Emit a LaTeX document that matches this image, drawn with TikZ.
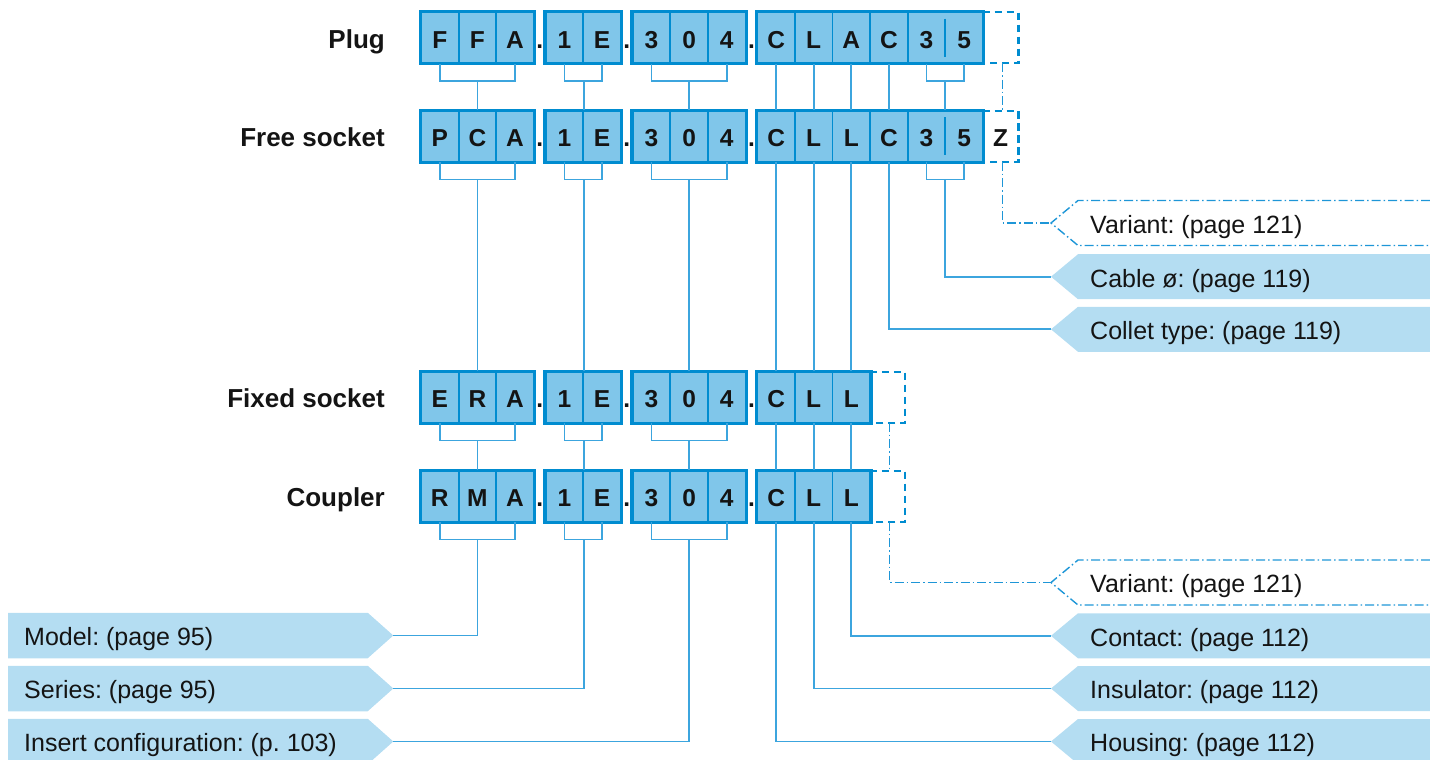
\documentclass[tikz,border=0pt]{standalone}
\usepackage{fontspec}
\setmainfont{Liberation Sans}
\frenchspacing
\definecolor{cellfill}{RGB}{128,198,234}
\definecolor{cellline}{RGB}{0,140,208}
\definecolor{connc}{RGB}{60,165,222}
\definecolor{lblfill}{RGB}{180,221,242}
\definecolor{ddcol}{RGB}{30,150,215}
\definecolor{txt}{RGB}{20,20,20}
\tikzset{
 cell/.style={draw=cellline, line width=1.8pt, fill=cellfill, minimum width=37.6pt, minimum height=50.5pt, inner sep=0pt, text height=24.6pt, text depth=4pt, font=\fontsize{24.5}{29}\selectfont\bfseries, text=txt},
 grp/.style={draw=cellline, line width=3pt},
 vbox/.style={minimum width=35.3pt, minimum height=50.5pt, inner sep=0pt, text height=24.6pt, text depth=4pt, font=\fontsize{24.5}{29}\selectfont\bfseries, text=txt},
 dbox/.style={draw=cellline, line width=2.4pt, dash pattern=on 7.5pt off 4.5pt},
 conn/.style={draw=connc, line width=1.7pt},
 ddl/.style={draw=ddcol, line width=1.4pt, dash pattern=on 9pt off 3pt on 1.5pt off 3pt},
 rowlbl/.style={anchor=base east, font=\fontsize{26}{31}\selectfont\bfseries, text=txt, inner sep=0pt},
 dotlbl/.style={anchor=base, font=\fontsize{24.5}{29}\selectfont\bfseries, text=txt, inner sep=0pt},
 lbltext/.style={anchor=base west, font=\fontsize{25}{30}\selectfont, text=txt, inner sep=0pt},
}
\newcommand\mkrow[3]{%
 \foreach \t [count=\i] in {#3} {%
  \pgfmathsetmacro\xx{{439.8,477.4,515.0,564.5,602.1,651.5,689.1,726.7,776.1,813.7,851.3,888.9}[\i-1]}%
  \node[cell] (#1\i) at (\xx,#2) {\t};
 }%
 \foreach \dx [count=\k] in {539.75,626.8,751.4} \node[dotlbl] (#1dot\k) at (\dx,{#2+10.3}) {.};
}
\newcommand\mkgrp[2]{%
 \draw[grp] (#11.north west) rectangle (#13.south east);
 \draw[grp] (#14.north west) rectangle (#15.south east);
 \draw[grp] (#16.north west) rectangle (#18.south east);
 \draw[grp] (#19.north west) rectangle (#1#2.south east);
}
\newcommand\brk[1]{%
 \draw[conn] (#11.south) -- ++(0,17) coordinate (#1bA) -| (#13.south);
 \draw[conn] (#14.south) -- ++(0,17) coordinate (#1bB) -| (#15.south);
 \draw[conn] (#16.south) -- ++(0,17) coordinate (#1bC) -| (#18.south);
}
\newcommand\rlab[4]{%
 \path[#4] (1430,{#2-22.5}) -- (1078,{#2-22.5}) -- (1051,#2) -- (1078,{#2+22.5}) -- (1430,{#2+22.5});
 \coordinate (#1) at (1051,#2);
 \node[lbltext] (#1t) at (1090,{#2+10.3}) {#3};
}
\newcommand\llab[3]{%
 \fill[lblfill] (8,{#2-22.75}) -- (367.7,{#2-22.75}) -- (393.3,#2) -- (367.7,{#2+22.75}) -- (8,{#2+22.75}) -- cycle;
 \coordinate (#1) at (393.3,#2);
 \node[lbltext] (#1t) at (24,{#2+10.2}) {#3};
}
\begin{document}
\begin{tikzpicture}[x=1pt,y=-1pt]
\useasboundingbox (0,0) rectangle (1430,760);

% ---------- labels ----------
\rlab{tVarA}{223}{Variant: (page 121)}{ddl}
\rlab{tCable}{276.7}{Cable ø: (page 119)}{fill=lblfill}
\rlab{tCollet}{329.3}{Collet type: (page 119)}{fill=lblfill}
\rlab{tVarB}{582.5}{Variant: (page 121)}{ddl}
\rlab{tContact}{635.8}{Contact: (page 112)}{fill=lblfill}
\rlab{tInsul}{688.5}{Insulator: (page 112)}{fill=lblfill}
\rlab{tHousing}{741.5}{Housing: (page 112)}{fill=lblfill}
\llab{tModel}{635.5}{Model: (page 95)}
\llab{tSeries}{688.5}{Series: (page 95)}
\llab{tInsert}{741.5}{Insert configuration: (p. 103)}

% ---------- row 1: Plug ----------
\mkrow{p}{37.75}{F,F,A,1,E,3,0,4,C,L,A,C}
\node[cell, minimum width=75.2pt] (p13) at (945.3,37.75) {\makebox[37.6pt]{3}\makebox[37.6pt]{5}};
\draw[cellline, line width=1.8pt] ([yshift=-7pt]p13.north) -- ([yshift=7pt]p13.south);
\node[vbox] (pz) at (1000.55,37.75) {};
\draw[dbox] (pz.north west) -- (pz.north east) -- (pz.south east) -- (pz.south west);
\mkgrp{p}{13}
\node[rowlbl] (lp) at (385,48.05) {Plug};

% ---------- row 2: Free socket ----------
\mkrow{f}{136.25}{P,C,A,1,E,3,0,4,C,L,L,C}
\node[cell, minimum width=75.2pt] (f13) at (945.3,136.25) {\makebox[37.6pt]{3}\makebox[37.6pt]{5}};
\draw[cellline, line width=1.8pt] ([yshift=-7pt]f13.north) -- ([yshift=7pt]f13.south);
\node[vbox] (fz) at (1000.55,136.25) {Z};
\draw[dbox] (fz.north west) -- (fz.north east) -- (fz.south east) -- (fz.south west);
\mkgrp{f}{13}
\node[rowlbl] (lf) at (385,146.55) {Free socket};

% ---------- row 3: Fixed socket ----------
\mkrow{x}{397.25}{E,R,A,1,E,3,0,4,C,L,L}
\node[vbox, minimum width=34.9pt] (xz) at (887.55,397.25) {};
\draw[dbox] (xz.north west) -- (xz.north east) -- (xz.south east) -- (xz.south west);
\mkgrp{x}{11}
\node[rowlbl] (lx) at (385,407.55) {Fixed socket};

% ---------- row 4: Coupler ----------
\mkrow{c}{496.25}{R,M,A,1,E,3,0,4,C,L,L}
\node[vbox, minimum width=34.9pt] (cz) at (887.55,496.25) {};
\draw[dbox] (cz.north west) -- (cz.north east) -- (cz.south east) -- (cz.south west);
\mkgrp{c}{11}
\node[rowlbl] (lc) at (385,506.55) {Coupler};

% ---------- connectors: plug -> free socket ----------
\brk{p}
\draw[conn] (pbA -| p2.south) -- (f2.north);
\draw[conn] (pbB -| p4.south east) -- (f4.north east);
\draw[conn] (pbC -| p7.south) -- (f7.north);
\foreach \j in {9,...,12} \draw[conn] (p\j.south) -- (f\j.north);
\draw[conn] ([xshift=-18.8pt]p13.south) -- ++(0,17) coordinate (pbD) -| ([xshift=18.8pt]p13.south);
\draw[conn] (pbD -| p13.south) -- (f13.north);
\draw[ddl] ([xshift=2pt]pz.south) -- ([xshift=2pt]fz.north);

% ---------- free socket -> fixed socket / labels ----------
\brk{f}
\draw[conn] (fbA -| f2.south) -- (x2.north);
\draw[conn] (fbB -| f4.south east) -- (x4.north east);
\draw[conn] (fbC -| f7.south) -- (x7.north);
\foreach \j in {9,10,11} \draw[conn] (f\j.south) -- (x\j.north);
\draw[conn] (f12.south) |- (tCollet);
\draw[conn] ([xshift=-18.8pt]f13.south) -- ++(0,17) coordinate (fbD) -| ([xshift=18.8pt]f13.south);
\draw[conn] (fbD -| f13.south) |- (tCable);
\draw[ddl] ([xshift=2pt]fz.south) |- (tVarA);

% ---------- fixed socket -> coupler ----------
\brk{x}
\draw[conn] (xbA -| x2.south) -- (c2.north);
\draw[conn] (xbB -| x4.south east) -- (c4.north east);
\draw[conn] (xbC -| x7.south) -- (c7.north);
\foreach \j in {9,10,11} \draw[conn] (x\j.south) -- (c\j.north);
\draw[ddl] ([xshift=1.8pt]xz.south) -- ([xshift=1.8pt]cz.north);

% ---------- coupler -> labels ----------
\brk{c}
\draw[conn] (cbA -| c2.south) |- (tModel);
\draw[conn] (cbB -| c4.south east) |- (tSeries);
\draw[conn] (cbC -| c7.south) |- (tInsert);
\draw[conn] (c9.south) |- (tHousing);
\draw[conn] (c10.south) |- (tInsul);
\draw[conn] (c11.south) |- (tContact);
\draw[ddl] ([xshift=1.8pt]cz.south) |- (tVarB);
\end{tikzpicture}
\end{document}
